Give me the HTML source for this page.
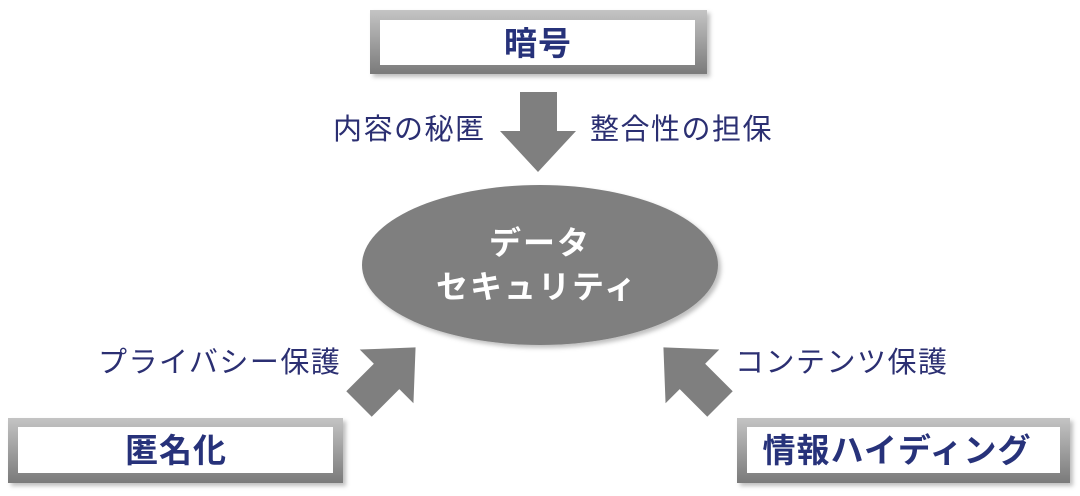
<!DOCTYPE html>
<html><head><meta charset="utf-8"><style>
html,body{margin:0;padding:0;background:#fff;width:1080px;height:496px;overflow:hidden}
svg{display:block}
text{font-family:"Liberation Sans","Noto Sans CJK JP",sans-serif}
</style></head><body>
<svg width="1080" height="496" viewBox="0 0 1080 496">
<defs>
<linearGradient id="g" x1="0" y1="0" x2="0" y2="1">
<stop offset="0" stop-color="#c4c4c4"/><stop offset="1" stop-color="#7a7a7a"/>
</linearGradient>
<filter id="s" x="-10%" y="-20%" width="130%" height="150%"><feDropShadow dx="3" dy="3" stdDeviation="2" flood-color="#000" flood-opacity="0.25"/></filter>
<g id="arr"><polygon points="-18,0 18,0 18,-39 38,-39 0,-80 -38,-39 -18,-39" fill="#7f7f7f"/></g>
</defs>
<g filter="url(#s)">
<rect x="370" y="10" width="337" height="64" fill="url(#g)"/>
<rect x="8" y="418" width="335" height="65" fill="url(#g)"/>
<rect x="737" y="418" width="333" height="65" fill="url(#g)"/>
</g>
<rect x="380" y="20" width="315" height="45" fill="#fff"/>
<rect x="18" y="427" width="315" height="46" fill="#fff"/>
<rect x="747" y="427" width="313" height="46" fill="#fff"/>
<g fill="#27327a" font-weight="bold" font-size="33" text-anchor="middle" letter-spacing="1">
<text x="538" y="55">暗号</text>
<text x="176" y="462">匿名化</text>
<text x="897" y="462">情報ハイディング</text>
</g>
<polygon points="520,92 557,92 557,131 576,131 538,172 500,131 520,131" fill="#7f7f7f"/>
<use href="#arr" transform="translate(359,404) rotate(45)"/>
<use href="#arr" transform="translate(720,404) rotate(-45)"/>
<ellipse cx="540" cy="265" rx="178" ry="80" fill="#7f7f7f" filter="url(#s)"/>
<g fill="#fff" font-weight="bold" font-size="32" text-anchor="middle" letter-spacing="2">
<text x="540" y="254">データ</text>
<text x="537" y="298">セキュリティ</text>
</g>
<g fill="#2b2f72" font-size="29" letter-spacing="1.5">
<text x="333" y="139">内容の秘匿</text>
<text x="590" y="139">整合性の担保</text>
<text x="98" y="372">プライバシー保護</text>
<text x="735" y="372">コンテンツ保護</text>
</g>
</svg>
</body></html>
